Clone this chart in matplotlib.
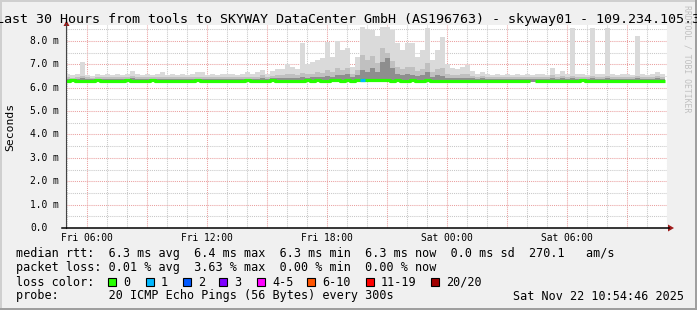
import matplotlib

matplotlib.use("Agg")

import matplotlib.pyplot as plt
import numpy as np
from matplotlib import transforms
from matplotlib.patches import Polygon, Rectangle
from matplotlib.lines import Line2D

W, H = 697, 310
MONO = "DejaVu Sans Mono"

TITLE = ("Last 30 Hours from tools to SKYWAY DataCenter GmbH (AS196763) "
         "- skyway01 - 109.234.105.3")

# time axis: hours since Fri 00:00, one bin = 15 min, first bin Fri 04:55
START_HOUR = 4 + 55 / 60
STEP_HOURS = 0.25

x_ticks = [6, 12, 18, 24, 30]
x_tick_labels = ["Fri 06:00", "Fri 12:00", "Fri 18:00", "Sat 00:00", "Sat 06:00"]
y_ticks = [0, 1, 2, 3, 4, 5, 6, 7, 8]
y_tick_labels = ["0.0", "1.0 m", "2.0 m", "3.0 m", "4.0 m",
                 "5.0 m", "6.0 m", "7.0 m", "8.0 m"]

# rtt in ms per 15-minute bin
median_rtt = [
    6.30, 6.31, 6.30, 6.29, 6.30, 6.30, 6.31, 6.30, 6.29, 6.30,
    6.30, 6.30, 6.31, 6.30, 6.30, 6.29, 6.30, 6.32, 6.30, 6.30,
    6.28, 6.30, 6.30, 6.30, 6.29, 6.30, 6.31, 6.30, 6.30, 6.30,
    6.30, 6.27, 6.28, 6.29, 6.30, 6.30, 6.31, 6.30, 6.29, 6.30,
    6.30, 6.31, 6.30, 6.30, 6.30, 6.29, 6.30, 6.30, 6.31, 6.30,
    6.31, 6.30, 6.30, 6.32, 6.31, 6.30, 6.31, 6.30, 6.32, 6.33,
    6.31, 6.32, 6.31, 6.33, 6.31, 6.30, 6.31, 6.30, 6.30, 6.31,
    6.30, 6.30, 6.31, 6.30, 6.30, 6.30, 6.30, 6.29, 6.30, 6.30,
    6.30, 6.29, 6.30, 6.30, 6.30, 6.29, 6.30, 6.30, 6.28, 6.30,
    6.30, 6.30, 6.29, np.nan, 6.29, 6.30, 6.28, 6.30, 6.30, 6.30,
    6.29, 6.30, 6.30, 6.31, 6.30, 6.30, 6.29, 6.30, 6.30, 6.30,
    6.29, 6.30, 6.30, 6.30, 6.30, 6.29, 6.30, 6.30, 6.30, 6.30,
]
smoke_max = [
    6.60, 6.55, 6.60, 7.10, 6.55, 6.50, 6.60, 6.55, 6.60, 6.55,
    6.60, 6.55, 6.60, 6.70, 6.60, 6.55, 6.60, 6.55, 6.60, 6.65,
    6.55, 6.60, 6.55, 6.60, 6.55, 6.60, 6.65, 6.65, 6.55, 6.60,
    6.55, 6.60, 6.60, 6.60, 6.55, 6.60, 6.65, 6.60, 6.65, 6.75,
    6.60, 6.70, 6.80, 6.80, 7.00, 6.90, 6.80, 7.90, 7.00, 7.10,
    7.20, 7.25, 7.95, 7.30, 8.00, 7.60, 7.70, 6.90, 7.30, 8.60,
    8.50, 8.45, 8.20, 8.60, 8.60, 8.45, 7.90, 7.60, 7.90, 7.90,
    7.30, 7.60, 8.55, 7.20, 7.60, 8.15, 7.00, 6.85, 6.80, 6.90,
    6.95, 6.70, 6.60, 6.65, 6.60, 6.55, 6.60, 6.55, 6.60, 6.55,
    6.60, 6.55, 6.60, 6.55, 6.60, 6.60, 6.55, 6.85, 6.60, 6.70,
    6.60, 8.55, 6.60, 6.60, 6.55, 8.55, 6.60, 6.60, 8.55, 6.60,
    6.55, 6.60, 6.60, 6.55, 8.20, 6.60, 6.55, 6.60, 6.65, 6.60,
]
smoke_mid = [
    6.45, 6.43, 6.46, 6.50, 6.44, 6.43, 6.45, 6.44, 6.46, 6.44,
    6.45, 6.44, 6.46, 6.50, 6.45, 6.44, 6.45, 6.44, 6.46, 6.47,
    6.44, 6.45, 6.44, 6.46, 6.44, 6.45, 6.47, 6.46, 6.44, 6.45,
    6.44, 6.46, 6.45, 6.45, 6.44, 6.46, 6.47, 6.45, 6.47, 6.52,
    6.46, 6.50, 6.55, 6.55, 6.60, 6.56, 6.55, 6.62, 6.58, 6.60,
    6.66, 6.62, 6.75, 6.66, 6.85, 6.75, 6.85, 6.58, 6.75, 7.40,
    7.20, 7.35, 7.05, 7.70, 7.50, 7.15, 6.90, 6.80, 6.90, 6.90,
    6.72, 6.80, 7.05, 6.65, 6.80, 6.85, 6.58, 6.54, 6.54, 6.58,
    6.58, 6.50, 6.46, 6.48, 6.46, 6.45, 6.46, 6.44, 6.46, 6.45,
    6.46, 6.44, 6.45, 6.44, 6.46, 6.46, 6.44, 6.52, 6.46, 6.50,
    6.46, 6.50, 6.46, 6.46, 6.44, 6.50, 6.46, 6.45, 6.50, 6.46,
    6.44, 6.46, 6.45, 6.44, 6.50, 6.46, 6.44, 6.46, 6.48, 6.46,
]
smoke_dark = [
    6.37, 6.36, 6.38, 6.40, 6.36, 6.36, 6.37, 6.36, 6.38, 6.36,
    6.37, 6.36, 6.38, 6.40, 6.37, 6.36, 6.37, 6.36, 6.38, 6.38,
    6.36, 6.37, 6.36, 6.38, 6.36, 6.37, 6.38, 6.38, 6.36, 6.37,
    6.36, 6.38, 6.37, 6.37, 6.36, 6.38, 6.38, 6.37, 6.38, 6.40,
    6.38, 6.40, 6.41, 6.41, 6.43, 6.42, 6.41, 6.45, 6.43, 6.44,
    6.46, 6.45, 6.50, 6.47, 6.54, 6.52, 6.60, 6.45, 6.54, 6.75,
    6.65, 6.85, 6.65, 7.10, 7.25, 6.85, 6.60, 6.52, 6.60, 6.52,
    6.48, 6.52, 6.65, 6.45, 6.52, 6.48, 6.42, 6.40, 6.40, 6.42,
    6.42, 6.39, 6.38, 6.39, 6.38, 6.37, 6.38, 6.36, 6.38, 6.37,
    6.38, 6.36, 6.37, 6.36, 6.38, 6.38, 6.36, 6.40, 6.38, 6.40,
    6.38, 6.40, 6.38, 6.38, 6.36, 6.40, 6.38, 6.37, 6.40, 6.38,
    6.36, 6.38, 6.37, 6.36, 6.40, 6.38, 6.36, 6.38, 6.39, 6.38,
]

loss_labels = ["0", "1", "2", "3", "4-5", "6-10", "11-19", "20/20"]
loss_colors = ["#26ff00", "#00b8ff", "#0059ff", "#7e00ff",
               "#ff00ff", "#ff5500", "#ff0000", "#a10000"]
# bins with packet loss -> index into loss_colors
loss_events = {59: 1}

stats_rtt = ("median rtt:  6.3 ms avg  6.4 ms max  6.3 ms min  "
             "6.3 ms now  0.0 ms sd  270.1   am/s")
stats_loss = "packet loss: 0.01 % avg  3.63 % max  0.00 % min  0.00 % now"
probe_text = "probe:       20 ICMP Echo Pings (56 Bytes) every 300s"
stamp_text = "Sat Nov 22 10:54:46 2025"


def fx(px):
    return px / W


def fy(py):
    return 1 - py / H


def main():
    fig = plt.figure(figsize=(W / 100, H / 100), dpi=100, facecolor="#f0f0f0")

    # frame shading
    for x, y, w, h, c in [(0, 0, W, 2, "#cfcfcf"), (0, 0, 2, H, "#cfcfcf"),
                          (W - 2, 0, 2, H, "#9f9f9f"), (0, H - 2, W, 2, "#9f9f9f")]:
        fig.add_artist(Rectangle((fx(x), fy(y + h)), w / W, h / H,
                                 transform=fig.transFigure, color=c, lw=0))

    ax = fig.add_axes([fx(66), fy(228), (667 - 66) / W, (228 - 25) / H])
    ax.set_facecolor("white")
    ax.set_xlim(4.95, 35.0)
    ax.set_ylim(0, (228 - 25) / 23.4)
    for s in ax.spines.values():
        s.set_visible(False)

    ax.set_xticks(np.arange(6, 35, 3))
    ax.set_xticks(np.arange(5, 36, 1), minor=True)
    ax.set_yticks(y_ticks)
    ax.set_yticks(np.arange(0.5, 8.6, 1.0), minor=True)
    ax.tick_params(which="both", length=0, labelleft=False, labelbottom=False)
    ax.set_axisbelow(True)
    ax.grid(which="major", color="#eaa0a0", ls=(0, (1, 1)), lw=0.75)
    ax.grid(which="minor", color="#c8c8c8", ls=(0, (1, 1)), lw=0.75)

    n = len(median_rtt)
    edges = START_HOUR + STEP_HOURS * np.arange(n + 1)
    med = np.array(median_rtt)

    def ext(a):
        a = np.asarray(a, float)
        return np.append(a, a[-1])

    base = 6.25
    ax.fill_between(edges, base, ext(smoke_max), step="post",
                    color="#dadada", lw=0, zorder=2)
    ax.fill_between(edges, base, ext(smoke_mid), step="post",
                    color="#c0c0c0", lw=0, zorder=3)
    ax.fill_between(edges, base, ext(smoke_dark), step="post",
                    color="#8e8e8e", lw=0, zorder=4)
    ax.step(edges, ext(med), where="post", color=loss_colors[0],
            lw=2.3, zorder=5, solid_capstyle="butt")
    for i, ci in loss_events.items():
        ax.hlines(med[i], edges[i], edges[i + 1], color=loss_colors[ci],
                  lw=2.3, zorder=6)

    # tick labels
    ytr = transforms.blended_transform_factory(fig.transFigure, ax.transData)
    for v, lab in zip(y_ticks, y_tick_labels):
        ax.text(fx(30), v, lab, transform=ytr, ha="left", va="center",
                fontsize=6.9, family=MONO, clip_on=False)
    xtr = transforms.blended_transform_factory(ax.transData, fig.transFigure)
    for v, lab in zip(x_ticks, x_tick_labels):
        ax.text(v, fy(238), lab, transform=xtr, ha="center", va="center",
                fontsize=6.9, family=MONO, clip_on=False)

    # axes lines + arrows
    fig.add_artist(Line2D([fx(66), fx(66)], [fy(228), fy(24)],
                          transform=fig.transFigure, color="#444444", lw=0.8))
    fig.add_artist(Line2D([fx(62), fx(669)], [fy(228), fy(228)],
                          transform=fig.transFigure, color="black", lw=1.1))
    arrow = "#9e1a1a"
    fig.add_artist(Polygon([(fx(66.5), fy(20.5)), (fx(63.5), fy(26)), (fx(69.5), fy(26))],
                           closed=True, transform=fig.transFigure, color=arrow, lw=0))
    fig.add_artist(Polygon([(fx(674), fy(228)), (fx(668), fy(224.5)), (fx(668), fy(231.5))],
                           closed=True, transform=fig.transFigure, color=arrow, lw=0))

    fig.text(fx(348.5), fy(19), TITLE, ha="center", va="center",
             fontsize=9.6, family=MONO)
    fig.text(fx(10), fy(127), "Seconds", rotation=90, ha="center", va="center",
             fontsize=8.2, family=MONO)
    fig.text(fx(686.5), fy(59), "RRDTOOL / TOBI OETIKER", rotation=270,
             ha="center", va="center", fontsize=5.9, family=MONO, color="#c0c0c0")

    # legend block
    fs = 8.5
    fig.text(fx(16), fy(254), stats_rtt, ha="left", va="center", fontsize=fs, family=MONO)
    fig.text(fx(16), fy(268), stats_loss, ha="left", va="center", fontsize=fs, family=MONO)
    fig.text(fx(16), fy(282), "loss color:", ha="left", va="center", fontsize=fs, family=MONO)
    square_x = [108, 146, 183, 219, 257, 307, 366, 431]
    for sx, lab, col in zip(square_x, loss_labels, loss_colors):
        fig.add_artist(Rectangle((fx(sx), fy(286)), 8 / W, 8 / H,
                                 transform=fig.transFigure, facecolor=col,
                                 edgecolor="black", lw=0.8))
        fig.text(fx(sx + 15), fy(282), lab, ha="left", va="center",
                 fontsize=fs, family=MONO)
    fig.text(fx(16), fy(296), probe_text, ha="left", va="center", fontsize=fs, family=MONO)
    fig.text(fx(513), fy(296), stamp_text, ha="left", va="center", fontsize=fs, family=MONO)

    fig.savefig("out.png", dpi=100, facecolor=fig.get_facecolor())


if __name__ == "__main__":
    main()
